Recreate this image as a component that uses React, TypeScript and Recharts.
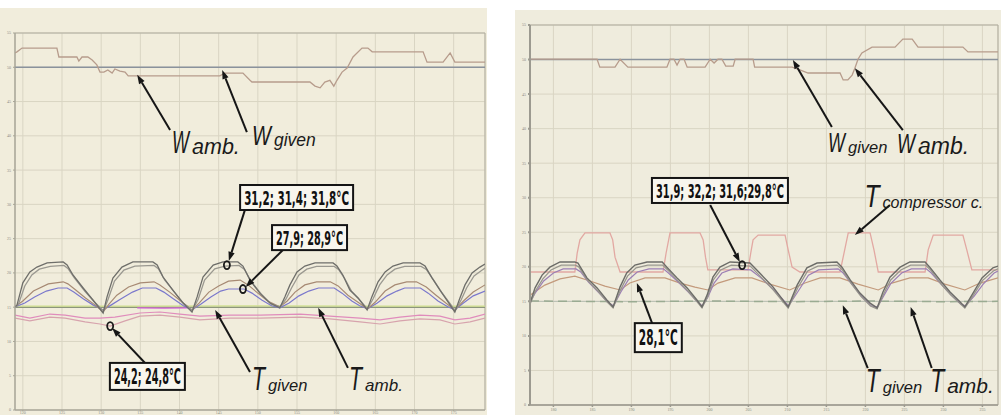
import {
  CartesianGrid,
  Line,
  LineChart,
  ReferenceArea,
  ReferenceDot,
  ReferenceLine,
  XAxis,
  YAxis,
} from "recharts";

type Pt = [number, number];

// axis ticks (labels are tiny in the scan)
const xTicks = [0, 10, 20, 30, 40, 50, 60, 70, 80, 90, 100, 110];
const leftXLabels = ["120", "125", "130", "135", "140", "145", "150", "155", "160", "165", "170", "175"];
const rightXLabels = ["180", "185", "190", "195", "200", "205", "210", "215", "220", "225", "230", "235"];
const yTicks = [0, 10, 20, 30, 40, 50, 60, 70, 80, 90, 100, 110];
const yLabels = ["0", "5", "10", "15", "20", "25", "30", "35", "40", "45", "50", "55"];

const W_GIVEN = 100;
const T_GIVEN = 30;

// ---- left panel ----
const leftWAmb: Pt[] = [
  [-2, 104.2], [-1.5, 104.5], [-0.2, 105.6], [8.7, 105.6], [9.2, 103.0], [13.8, 103.0], [14.3, 101.8],
  [15.1, 103.0], [16.6, 103.0], [17.7, 102.1], [18.9, 100.7], [19.7, 98.6], [20.7, 98.6], [21.7, 99.2],
  [22.8, 98.3], [23.5, 99.5], [24.8, 98.9], [26.1, 98.6], [26.9, 97.5], [50.3, 97.5], [51.6, 98.3],
  [56.2, 98.3], [58.0, 96.2], [58.5, 95.7], [73.3, 95.7], [74.6, 94.5], [75.9, 94.0], [77.1, 95.7],
  [78.4, 96.2], [79.4, 94.5], [80.2, 96.2], [81.5, 98.6], [82.8, 99.8], [84.3, 103.0], [86.6, 105.6],
  [88.1, 105.6], [89.2, 104.5], [102.2, 104.5], [103.2, 101.5], [107.3, 101.5], [109.1, 104.2],
  [110.3, 101.5], [118, 101.5],
];

const leftTopA: Pt[] = [
  [-2, 30.1], [-1.5, 30.6], [0, 37.1], [1.8, 40.3], [3.6, 41.7], [6.2, 42.9], [10.3, 43.2], [11.3, 42.3],
  [12.8, 39.4], [15.4, 35.6], [17.9, 32.1], [20.5, 28.3],
  [21.5, 33.0], [23.0, 38.5], [25.3, 41.7], [28.1, 43.2], [33.2, 43.2], [34.3, 42.3], [35.8, 38.8],
  [38.3, 35.0], [40.9, 31.2], [43.2, 28.6],
  [44.5, 33.0], [46.0, 38.8], [48.6, 42.3], [51.1, 43.2], [54.9, 43.2], [56.2, 42.0], [58.0, 37.9],
  [60.5, 34.1], [63.1, 31.2], [65.6, 29.8],
  [66.9, 33.0], [68.2, 36.5], [70.0, 40.3], [72.0, 42.0], [74.6, 42.9], [79.2, 42.9], [80.2, 42.0],
  [81.7, 39.4], [83.5, 35.0], [85.6, 32.7], [87.9, 29.2],
  [89.1, 33.0], [90.7, 37.4], [92.5, 40.3], [94.5, 42.0], [97.1, 42.9], [101.4, 42.9], [102.7, 42.0],
  [104.5, 38.5], [106.5, 35.0], [108.6, 31.5], [110.3, 28.6],
  [111.6, 32.7], [112.9, 36.5], [114.7, 40.0], [116.7, 41.7], [118, 42.6],
];

const leftTopB: Pt[] = [
  [-2, 30.1], [-1.2, 30.6], [0.5, 36.2], [2.3, 39.4], [4.2, 41.1], [7, 41.9], [10.5, 42.2], [11.6, 41.2],
  [13.2, 38.5], [15.8, 34.7], [18.3, 31.5], [20.6, 28.9],
  [21.8, 32.4], [23.4, 37.6], [25.8, 40.8], [28.6, 42.0], [33.5, 42.2], [34.6, 41.2], [36.2, 38.0],
  [38.7, 34.4], [41.2, 30.9], [43.3, 29.0],
  [44.8, 32.4], [46.4, 37.9], [49.0, 41.2], [51.6, 42.0], [55.2, 42.2], [56.6, 41.0], [58.4, 37.3],
  [60.9, 33.8], [63.4, 30.9], [65.7, 30.1],
  [67.2, 32.4], [68.6, 35.6], [70.5, 39.4], [72.5, 41.1], [75.0, 41.9], [79.5, 41.9], [80.6, 41.0],
  [82.1, 38.5], [83.9, 34.7], [86.0, 32.1], [88.0, 29.5],
  [89.4, 32.4], [91.1, 36.5], [93.0, 39.4], [95.0, 41.1], [97.5, 41.9], [101.7, 41.9], [103.0, 41.0],
  [104.9, 37.9], [106.9, 34.4], [109.0, 31.2], [110.4, 29.0],
  [111.9, 32.1], [113.3, 35.6], [115.2, 39.1], [117.2, 40.8], [118, 41.4],
];

const leftBrown: Pt[] = [
  [-2, 30.1], [0, 31.8], [2.7, 34.7], [6.5, 36.8], [10.3, 37.4], [11.5, 36.8], [13.5, 35.0], [16, 32.7],
  [18.5, 30.6], [20.5, 28.6],
  [22, 30.9], [24, 33.5], [27, 35.9], [30, 37.1], [33.5, 37.4], [35, 36.5], [37.5, 34.4], [40, 32.1], [43.2, 29.2],
  [45, 31.2], [47.5, 34.4], [50, 36.2], [52.5, 37.6], [55.5, 37.9], [57.5, 36.5], [60, 34.1], [62.5, 31.8], [65.6, 30.1],
  [67.5, 31.8], [69.5, 34.4], [72, 36.5], [75, 37.4], [78.5, 37.4], [80.5, 36.2], [83, 33.5], [85.5, 31.5], [88, 29.5],
  [90, 31.5], [92.5, 34.7], [95, 36.5], [98, 37.4], [100.5, 37.4], [103, 35.9], [105.5, 33.5], [108, 31.2], [110.3, 29.2],
  [112.5, 31.8], [115, 34.4], [118, 36.5],
];

const leftBlue: Pt[] = [
  [-2, 30.1], [0.5, 31.2], [3, 33.0], [6, 34.7], [9, 35.6], [11.3, 35.6], [13, 34.4], [15.5, 32.4], [18, 30.6], [20.5, 29.2],
  [22.5, 30.6], [25, 32.4], [28, 34.4], [30.5, 35.6], [34, 35.6], [36, 34.4], [38.5, 32.4], [41, 30.4], [43.2, 29.2],
  [45.5, 30.9], [48, 33.0], [50.5, 34.7], [52.5, 35.3], [56.5, 35.3], [58.5, 34.1], [61, 32.1], [63.5, 30.4], [65.6, 29.8],
  [68, 31.2], [70.5, 33.3], [73, 34.7], [75.5, 35.6], [79.5, 35.6], [81.5, 34.1], [84, 31.8], [86, 30.4], [88, 29.5],
  [90.5, 31.2], [93, 33.3], [95.5, 34.7], [97.5, 35.6], [101.5, 35.6], [103.5, 34.1], [106, 31.8], [108.5, 30.1], [110.3, 29.2],
  [112.5, 31.2], [115, 33.3], [118, 34.7],
];

const leftPinkA: Pt[] = [
  [-2, 27.7], [1.8, 26.8], [6.9, 28.0], [10.8, 27.7], [15.9, 26.8], [19.7, 26.8], [23.5, 27.1], [29.9, 28.3],
  [35, 28.6], [40.1, 28.0], [45.2, 27.4], [52.9, 27.7], [60.6, 27.7], [70.8, 28.0], [78.4, 27.4], [86.1, 26.8],
  [91.2, 26.3], [96.3, 27.1], [101.4, 27.7], [106.5, 27.4], [110.3, 26.3], [114.2, 26.8], [118, 28.0],
];

const leftPinkB: Pt[] = [
  [-2, 26.8], [1.8, 26.0], [6.9, 27.1], [10.8, 26.8], [15.9, 25.7], [19.7, 25.1], [22.3, 24.5], [26.1, 26.0],
  [29.9, 27.4], [35, 27.7], [40.1, 27.1], [45.2, 26.3], [52.9, 26.8], [60.6, 26.8], [70.8, 27.1], [78.4, 26.6],
  [86.1, 25.7], [91.2, 25.1], [96.3, 26.0], [101.4, 26.6], [106.5, 26.3], [110.3, 25.1], [114.2, 25.7], [118, 26.8],
];

const leftGreen: Pt[] = [[-2, 30.3], [30, 30.3], [60, 30.4], [90, 30.3], [118, 30.3]];
const leftMagenta: Pt[] = [[29.2, 29.8], [36, 29.7], [42.0, 29.8]];

// ---- right panel ----
const rightWAmb: Pt[] = [
  [-6, 100.1], [11.2, 100.1], [11.9, 97.8], [15.8, 97.8], [17.1, 100.1], [19.1, 97.8], [29.1, 97.8], [29.9, 100.1],
  [30.9, 100.1], [31.7, 98.4], [32.5, 100.1], [33.5, 100.1], [34.3, 97.8], [38.9, 97.8], [40.2, 100.1], [41.2, 99.0],
  [42.2, 100.1], [43.2, 100.1], [44.2, 98.1], [46.1, 98.1], [46.6, 100.1], [51.2, 100.1], [51.6, 97.8], [61.2, 97.8],
  [63.2, 97.0], [65.3, 96.1], [73.5, 96.1], [74.3, 94.1], [75.5, 94.1], [76.6, 95.5], [77.3, 97.5], [78.1, 100.1],
  [79.1, 101.9], [81.7, 103.6], [87.6, 103.6], [89.6, 105.9], [92.0, 105.9], [93.5, 103.6], [105, 103.6],
  [106.3, 102.2], [114, 102.2],
];

const rightCompressor: Pt[] = [
  [-6, 38.5], [5.5, 38.5], [6.1, 44.0], [6.8, 47.8], [8.1, 49.8], [14.5, 49.8], [15.2, 47.8], [15.8, 42.8],
  [17.1, 38.5], [28.1, 38.5], [28.9, 44.0], [29.9, 49.8], [37.6, 49.8], [38.4, 47.8], [39.0, 42.8], [39.6, 39.1],
  [49.9, 39.1], [50.6, 44.0], [51.2, 47.8], [52.5, 49.2], [59.4, 49.2], [60.2, 44.9], [61.2, 39.9], [63.2, 38.5],
  [73.5, 38.5], [74.3, 42.8], [75.6, 49.8], [81.2, 49.8], [82.2, 44.9], [83.3, 38.5], [95.3, 38.5], [96.1, 44.9],
  [97.4, 49.2], [105.0, 49.2], [106.0, 44.9], [107.3, 39.1], [114, 39.1],
];

const rightTopA: Pt[] = [
  [-6, 29.5], [-4.7, 33.9], [-2.9, 37.6], [-0.9, 39.9], [1.7, 41.4], [5.5, 41.4], [6.3, 41.1], [8.6, 36.8],
  [11.2, 33.9], [13.7, 30.4], [15.3, 28.4], [17.1, 34.2], [18.8, 38.2], [20.9, 40.5], [24.0, 41.4], [27.9, 41.4],
  [29.1, 39.9], [31.7, 36.8], [34.3, 33.9], [36.8, 30.4], [38.1, 28.4], [39.4, 31.8], [40.9, 37.0], [42.7, 39.9],
  [45.3, 41.4], [50.4, 41.1], [52.9, 38.2], [56.3, 34.2], [60.2, 28.4], [62.5, 34.7], [65.0, 39.7], [67.6, 41.1],
  [72.7, 41.4], [74.0, 39.9], [76.1, 36.2], [78.6, 32.4], [81.2, 29.5], [83.0, 28.1], [84.5, 32.7], [86.3, 37.0],
  [88.9, 39.9], [91.4, 41.4], [95.3, 41.4], [96.5, 39.9], [99.1, 36.2], [101.7, 32.7], [104.3, 29.8], [105.5, 28.4],
  [107.6, 32.4], [109.9, 36.8], [112.7, 39.7], [114, 40.2],
];

const rightTopB: Pt[] = [
  [-6, 29.2], [-4.6, 33.0], [-2.7, 36.5], [-0.6, 39.1], [2, 40.5], [5.6, 40.5], [6.5, 40.0], [8.8, 36.0],
  [11.4, 33.0], [13.8, 29.8], [15.3, 28.1], [17.2, 33.3], [19, 37.3], [21.2, 39.7], [24.2, 40.5], [28, 40.5],
  [29.3, 39.1], [31.9, 36.0], [34.5, 33.0], [36.9, 29.8], [38.1, 28.1], [39.5, 31.2], [41, 36.2], [42.9, 39.1],
  [45.6, 40.5], [50.5, 40.2], [53, 37.3], [56.4, 33.3], [60.2, 28.1], [62.7, 34.0], [65.2, 38.8], [67.8, 40.2],
  [72.8, 40.5], [74.1, 39.1], [76.3, 35.3], [78.8, 31.5], [81.3, 28.7], [83, 27.8], [84.6, 32.0], [86.5, 36.2],
  [89.1, 39.1], [91.6, 40.5], [95.4, 40.5], [96.7, 39.1], [99.2, 35.3], [101.8, 32.0], [104.4, 29.2], [105.5, 28.1],
  [107.7, 31.8], [110, 36.0], [112.8, 38.8], [114, 39.4],
];

const rightPurple: Pt[] = [
  [-6, 29.8], [-4.5, 32.7], [-2.5, 35.9], [0, 38.2], [2.5, 39.4], [5.8, 39.4], [7, 38.5], [9, 35.6], [11.5, 32.7],
  [13.9, 29.8], [15.4, 28.7], [17.3, 32.7], [19.2, 36.2], [21.5, 38.5], [24.5, 39.4], [28.2, 39.4], [29.5, 38.2],
  [32, 35.6], [34.6, 32.7], [37, 29.8], [38.2, 28.7], [39.6, 31.2], [41.2, 35.3], [43.2, 38.2], [46, 39.4],
  [50.6, 39.1], [53.2, 36.8], [56.6, 33.3], [60.3, 28.7], [62.8, 33.0], [65.4, 37.6], [68, 39.1], [73, 39.4],
  [74.3, 38.2], [76.5, 35.0], [79, 31.5], [81.5, 28.7], [83.1, 28.4], [84.8, 31.8], [86.6, 35.3], [89.3, 38.2],
  [91.8, 39.4], [95.6, 39.4], [96.9, 38.2], [99.4, 35.0], [102, 31.8], [104.5, 29.2], [105.6, 28.7], [107.9, 31.5],
  [110.2, 35.0], [113, 38.2], [114, 38.8],
];

const rightOrange: Pt[] = [
  [-6, 31.8], [-2.2, 34.7], [1.7, 36.5], [5.5, 37.3], [9.4, 35.9], [13.2, 34.4], [17.1, 33.3], [19.6, 35.3],
  [23.5, 36.8], [28.6, 36.8], [32.5, 35.3], [36.3, 34.1], [39.6, 33.3], [42.2, 35.3], [46.6, 36.8], [50.9, 36.8],
  [55.5, 35.0], [60.6, 33.3], [64.5, 35.3], [68.4, 36.8], [73.5, 36.8], [78.1, 35.0], [83.3, 33.3], [86.8, 35.3],
  [91.4, 36.8], [96.1, 36.8], [100.4, 35.0], [105.5, 33.3], [109.4, 35.3], [114, 36.8],
];

const rightTAmb: Pt[] = [[-6, 30.1], [20, 29.9], [40, 30.1], [60, 29.9], [80, 30.1], [100, 29.9], [114, 30.0]];

const pts = (a: Pt[]) => a.map(([t, v]) => ({ t, v }));

const LABEL_FONT = "'Liberation Sans', Arial, sans-serif";
const BOX_FONT = "'Liberation Sans Narrow', 'DejaVu Sans Condensed', 'Liberation Sans', sans-serif";
// advance width (em) of the big letters in Liberation Sans italic
const ADV: Record<string, number> = { W: 0.944, T: 0.611 };

let measureCtx: CanvasRenderingContext2D | null = null;
function textWidth(text: string, font: string) {
  if (!measureCtx) measureCtx = document.createElement("canvas").getContext("2d");
  if (!measureCtx) return text.length * 10;
  measureCtx.font = font;
  return measureCtx.measureText(text).width;
}

function Arrow(p: any) {
  const { x1, y1, x2, y2 } = p;
  const a = Math.atan2(y2 - y1, x2 - x1);
  const c = Math.cos(a);
  const s = Math.sin(a);
  const bx = x2 - 9 * c;
  const by = y2 - 9 * s;
  return (
    <g>
      <line x1={x1} y1={y1} x2={bx} y2={by} stroke="#161616" strokeWidth={2} />
      <polygon
        points={`${x2},${y2} ${bx + 3.2 * s},${by - 3.2 * c} ${bx - 3.2 * s},${by + 3.2 * c}`}
        fill="#161616"
      />
    </g>
  );
}

// boxed value label; the text is squeezed to the box width with a transform
const boxShape = (text: string, w: number, h: number, size: number) => (p: any) => {
  const natural = textWidth(text, `bold ${size}px ${BOX_FONT}`);
  const sx = Math.min(1, (w - 8) / natural);
  return (
    <g>
      <rect x={p.cx - w / 2} y={p.cy - h / 2} width={w} height={h} fill="#f8f6ee" stroke="#141414" strokeWidth={2} />
      <text
        transform={`translate(${p.cx},${p.cy + size * 0.36}) scale(${sx.toFixed(3)},1)`}
        textAnchor="middle"
        fontSize={size}
        fontWeight="bold"
        fontFamily={BOX_FONT}
        fill="#111"
      >
        {text}
      </text>
    </g>
  );
};

// tall narrow letter followed by a subscript word
const subShape = (main: string, sub: string, mainSize: number, subSize: number, mainW: number) => (p: any) => {
  const sx = mainW / (ADV[main] * mainSize);
  return (
    <g fill="#1a1a1a" fontFamily={LABEL_FONT} fontStyle="italic">
      <text transform={`translate(${p.cx},${p.cy}) scale(${sx.toFixed(3)},1)`} fontSize={mainSize}>
        {main}
      </text>
      <text x={p.cx + mainW + 3} y={p.cy + 1} fontSize={subSize}>
        {sub}
      </text>
    </g>
  );
};

const circle = (p: any) => (
  <ellipse cx={p.cx} cy={p.cy} rx={3} ry={4} fill="none" stroke="#1a1a1a" strokeWidth={1.8} />
);

const tick = { fontSize: 4, fill: "#8a8a80" };

function LeftPanel() {
  return (
    <LineChart width={487} height={407} margin={{ top: 25, right: 2, bottom: 0, left: 0 }}>
      <CartesianGrid stroke="#d9d5c3" />
      <XAxis
        type="number"
        dataKey="t"
        domain={[-2, 118]}
        allowDataOverflow
        ticks={xTicks}
        tickFormatter={(_v, i) => leftXLabels[i]}
        tick={tick}
        tickSize={1}
        tickMargin={0}
        height={5}
        stroke="#a7a597"
      />
      <YAxis
        type="number"
        domain={[0, 110]}
        allowDataOverflow
        ticks={yTicks}
        tickFormatter={(_v, i) => yLabels[i]}
        tick={tick}
        tickSize={2}
        width={15}
        stroke="#a7a597"
      />
      <ReferenceArea x1={-2} x2={118} y1={0} y2={110} fill="none" stroke="#b0ad9f" />
      <ReferenceLine y={W_GIVEN} stroke="#8a929c" strokeWidth={1.5} />
      <ReferenceLine y={T_GIVEN} stroke="#8c957c" strokeWidth={1.5} />
      <Line data={pts(leftGreen)} dataKey="v" stroke="#cfe08e" strokeWidth={1.2} dot={false} isAnimationActive={false} />
      <Line data={pts(leftMagenta)} dataKey="v" stroke="#d35fd8" strokeWidth={1.2} dot={false} isAnimationActive={false} />
      <Line data={pts(leftWAmb)} dataKey="v" stroke="#b79c8c" strokeWidth={1.3} dot={false} isAnimationActive={false} />
      <Line data={pts(leftPinkB)} dataKey="v" stroke="#d7a3ad" strokeWidth={1.2} dot={false} isAnimationActive={false} />
      <Line data={pts(leftPinkA)} dataKey="v" stroke="#e08cbc" strokeWidth={1.2} dot={false} isAnimationActive={false} />
      <Line data={pts(leftBlue)} dataKey="v" stroke="#7b78cc" strokeWidth={1.2} dot={false} isAnimationActive={false} />
      <Line data={pts(leftBrown)} dataKey="v" stroke="#a78a74" strokeWidth={1.2} dot={false} isAnimationActive={false} />
      <Line data={pts(leftTopB)} dataKey="v" stroke="#9a9890" strokeWidth={1.3} dot={false} isAnimationActive={false} />
      <Line data={pts(leftTopA)} dataKey="v" stroke="#6e6e6a" strokeWidth={1.3} dot={false} isAnimationActive={false} />

      <ReferenceLine segment={[{ x: 37.6, y: 81.7 }, { x: 29.2, y: 97.8 }]} shape={Arrow} />
      <ReferenceLine segment={[{ x: 57.2, y: 81.1 }, { x: 50.9, y: 99.2 }]} shape={Arrow} />
      <ReferenceLine segment={[{ x: 56.7, y: 58.4 }, { x: 52.6, y: 43.5 }]} shape={Arrow} />
      <ReferenceLine segment={[{ x: 66.4, y: 46.7 }, { x: 56.9, y: 35.9 }]} shape={Arrow} />
      <ReferenceLine segment={[{ x: 31.2, y: 13.7 }, { x: 22.8, y: 23.9 }]} shape={Arrow} />
      <ReferenceLine segment={[{ x: 58.0, y: 11.1 }, { x: 49.1, y: 29.2 }]} shape={Arrow} />
      <ReferenceLine segment={[{ x: 83.0, y: 12.3 }, { x: 75.4, y: 29.8 }]} shape={Arrow} />

      <ReferenceDot x={52.1} y={42.3} r={3} shape={circle} />
      <ReferenceDot x={56.2} y={35.3} r={3} shape={circle} />
      <ReferenceDot x={22.3} y={24.5} r={3} shape={circle} />

      <ReferenceDot x={69.9} y={62.0} r={1} shape={boxShape("31,2; 31,4; 31,8°C", 113, 25, 20)} />
      <ReferenceDot x={73.2} y={50.3} r={1} shape={boxShape("27,9; 28,9°C", 75, 25, 20)} />
      <ReferenceDot x={31.8} y={9.8} r={1} shape={boxShape("24,2; 24,8°C", 75, 27, 21)} />

      <ReferenceDot x={38.1} y={75.0} r={1} shape={subShape("W", "amb.", 31, 21.5, 17)} />
      <ReferenceDot x={58.5} y={77.3} r={1} shape={subShape("W", "given", 27, 17.5, 19)} />
      <ReferenceDot x={58.5} y={5.8} r={1} shape={subShape("T", "given", 33, 16.5, 13)} />
      <ReferenceDot x={83.3} y={5.8} r={1} shape={subShape("T", "amb.", 33, 17, 13)} />
    </LineChart>
  );
}

function RightPanel() {
  return (
    <LineChart width={486} height={405} margin={{ top: 15, right: 3, bottom: 0, left: 0 }}>
      <CartesianGrid stroke="#d9d5c3" />
      <XAxis
        type="number"
        dataKey="t"
        domain={[-6, 114]}
        allowDataOverflow
        ticks={xTicks}
        tickFormatter={(_v, i) => rightXLabels[i]}
        tick={tick}
        tickSize={2}
        tickMargin={1}
        height={10}
        stroke="#9c9a90"
        strokeWidth={1.5}
      />
      <YAxis
        type="number"
        domain={[0, 110]}
        allowDataOverflow
        ticks={yTicks}
        tickFormatter={(_v, i) => yLabels[i]}
        tick={tick}
        tickSize={2}
        width={15}
        stroke="#9c9a90"
        strokeWidth={2}
      />
      <ReferenceArea x1={-6} x2={114} y1={0} y2={110} fill="none" stroke="#b0ad9f" />
      <ReferenceLine y={W_GIVEN} stroke="#8a929c" strokeWidth={1.5} />
      <ReferenceLine y={T_GIVEN} stroke="#b9bfb4" strokeWidth={1} />
      <Line data={pts(rightTAmb)} dataKey="v" stroke="#9aab92" strokeWidth={1.5} strokeDasharray="9 5" dot={false} isAnimationActive={false} />
      <Line data={pts(rightWAmb)} dataKey="v" stroke="#b79c8c" strokeWidth={1.3} dot={false} isAnimationActive={false} />
      <Line data={pts(rightCompressor)} dataKey="v" stroke="#e2a8a2" strokeWidth={1.3} dot={false} isAnimationActive={false} />
      <Line data={pts(rightOrange)} dataKey="v" stroke="#c39a7c" strokeWidth={1.2} dot={false} isAnimationActive={false} />
      <Line data={pts(rightPurple)} dataKey="v" stroke="#9c7fb4" strokeWidth={1.2} dot={false} isAnimationActive={false} />
      <Line data={pts(rightTopB)} dataKey="v" stroke="#98968e" strokeWidth={1.3} dot={false} isAnimationActive={false} />
      <Line data={pts(rightTopA)} dataKey="v" stroke="#6c6c68" strokeWidth={1.4} dot={false} isAnimationActive={false} />

      <ReferenceLine segment={[{ x: 71.4, y: 80.5 }, { x: 61.4, y: 99.9 }]} shape={Arrow} />
      <ReferenceLine segment={[{ x: 89.6, y: 79.6 }, { x: 77.3, y: 97.5 }]} shape={Arrow} />
      <ReferenceLine segment={[{ x: 86.3, y: 57.9 }, { x: 77.3, y: 49.2 }]} shape={Arrow} />
      <ReferenceLine segment={[{ x: 40.2, y: 57.9 }, { x: 47.8, y: 41.4 }]} shape={Arrow} />
      <ReferenceLine segment={[{ x: 25.3, y: 23.7 }, { x: 21.4, y: 35.3 }]} shape={Arrow} />
      <ReferenceLine segment={[{ x: 80.6, y: 10.7 }, { x: 74.2, y: 28.9 }]} shape={Arrow} />
      <ReferenceLine segment={[{ x: 97.0, y: 10.7 }, { x: 91.6, y: 28.4 }]} shape={Arrow} />

      <ReferenceDot x={48.4} y={40.5} r={3} shape={circle} />

      <ReferenceDot x={42.7} y={62.1} r={1} shape={boxShape("31,9; 32,2; 31,6;29,8°C", 136, 25, 20)} />
      <ReferenceDot x={26.9} y={19.5} r={1} shape={boxShape("28,1°C", 47, 29, 21)} />

      <ReferenceDot x={70.4} y={73.2} r={1} shape={subShape("W", "given", 27, 16.5, 17)} />
      <ReferenceDot x={88.1} y={72.9} r={1} shape={subShape("W", "amb.", 27, 23, 18)} />
      <ReferenceDot x={79.8} y={57.3} r={1} shape={subShape("T", "compressor c.", 31, 16, 15)} />
      <ReferenceDot x={80.1} y={3.8} r={1} shape={subShape("T", "given", 33, 16.5, 14)} />
      <ReferenceDot x={96.6} y={3.8} r={1} shape={subShape("T", "amb.", 33, 21, 14)} />
    </LineChart>
  );
}

export default function App() {
  return (
    <div style={{ position: "absolute", left: 0, top: 0, width: 1001, height: 415, background: "#ffffff", overflow: "hidden" }}>
      <div style={{ position: "absolute", left: 0, top: 8, width: 487, height: 407, background: "#f1eddc" }}>
        <LeftPanel />
      </div>
      <div style={{ position: "absolute", left: 515, top: 10, width: 486, height: 405, background: "#efecdd" }}>
        <RightPanel />
      </div>
    </div>
  );
}
